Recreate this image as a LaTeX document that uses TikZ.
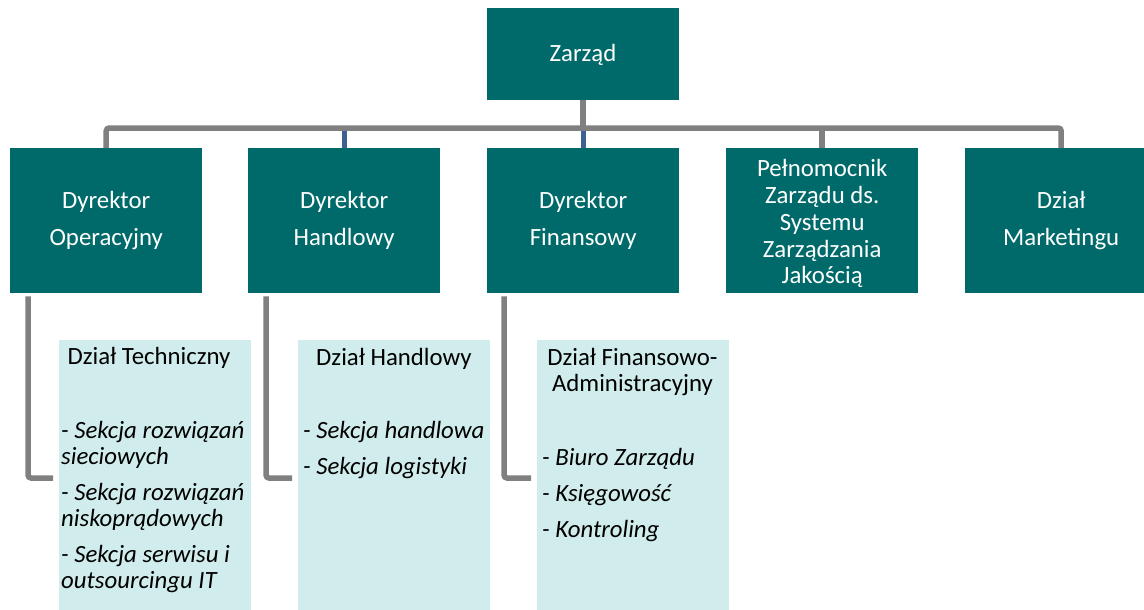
\documentclass[tikz,border=0pt]{standalone}
\usepackage{fontspec}
\setmainfont{Carlito}
\definecolor{darkbox}{RGB}{0,106,106}
\definecolor{lightbox}{RGB}{208,236,236}
\definecolor{conngray}{RGB}{128,128,128}
\definecolor{connblue}{RGB}{61,97,145}
\begin{document}
\begin{tikzpicture}[x=1pt,y=-1pt,
  topbox/.style={fill=darkbox, draw=none, text=white, minimum width=192pt, inner sep=0pt,
    font=\fontsize{24.8}{26.7}\selectfont, align=center, anchor=north west},
  boxtext/.style={text=white, font=\fontsize{24.8}{26.7}\selectfont, align=center, inner sep=0pt},
  subbox/.style={fill=lightbox, draw=none, minimum width=192pt, minimum height=280pt, inner sep=0pt, anchor=north west},
  subtitle/.style={font=\fontsize{24.8}{26}\selectfont, align=center, inner sep=0pt, anchor=base},
  subitems/.style={font=\fontsize{24.8}{26}\selectfont\itshape, align=left, inner sep=0pt, anchor=base west},
  grayline/.style={draw=conngray, line width=5.5pt, rounded corners=3pt},
  blueline/.style={draw=connblue, line width=5pt}
]
\clip (0,0) rectangle (1144,610);
\fill[white] (0,0) rectangle (1144,610);
% top
\node[topbox, minimum height=92pt] (z) at (487,8) {};
\node[boxtext, anchor=base] (zt) at (583,62) {Zarząd};
% level 2
\node[topbox, minimum height=145pt] (d1) at (10,148) {Dyrektor\\[10.3pt]Operacyjny};
\node[topbox, minimum height=145pt] (d2) at (248,148) {Dyrektor\\[10.3pt]Handlowy};
\node[topbox, minimum height=145pt] (d3) at (487,148) {Dyrektor\\[10.3pt]Finansowy};
\node[topbox, minimum height=145pt] (d4) at (726,148) {};
\node[boxtext] (d4t) at ([yshift=-3pt]d4.center) {Pełnomocnik\\Zarządu ds.\\Systemu\\Zarządzania\\Jakością};
\node[topbox, minimum height=145pt] (d5) at (965,148) {Dział\\[10.3pt]Marketingu};
% connectors level 1-2
\coordinate (bar) at (583,128);
\draw[blueline] (d2.north |- bar) -- (d2.north);
\draw[blueline] (d3.north |- bar) -- (d3.north);
\draw[grayline] (d1.north) -- (d1.north |- bar) -- (d5.north |- bar) -- (d5.north);
\draw[grayline] (d4.north |- bar) -- (d4.north);
\draw[grayline] (z.south) -- (z.south |- bar);
% level 3 boxes
\node[subbox] (l1) at (59,340) {};
\node[subbox] (l2) at (298,340) {};
\node[subbox] (l3) at (537,340) {};
\node[subtitle] (t1) at (149,364) {Dział Techniczny};
\node[subitems] (i1) at (61,588) {- Sekcja rozwiązań\\sieciowych\\[10pt]- Sekcja rozwiązań\\niskoprądowych\\[10pt]- Sekcja serwisu i\\outsourcingu IT};
\node[subtitle] (t2) at (394,365) {Dział Handlowy};
\node[subitems] (i2) at (303,474) {- Sekcja handlowa\\[10pt]- Sekcja logistyki};
\node[subtitle] (t3) at (632.5,391) {Dział Finansowo-\\Administracyjny};
\node[subitems] (i3) at (542,537) {- Biuro Zarządu\\[10pt]- Księgowość\\[10pt]- Kontroling};
% connectors level 2-3
\draw[grayline] ([shift={(18,3)}]d1.south west) |- ([shift={(-6,138)}]l1.north west);
\draw[grayline] ([shift={(18,3)}]d2.south west) |- ([shift={(-6,138)}]l2.north west);
\draw[grayline] ([shift={(17,3)}]d3.south west) |- ([shift={(-6,138)}]l3.north west);
\end{tikzpicture}
\end{document}
